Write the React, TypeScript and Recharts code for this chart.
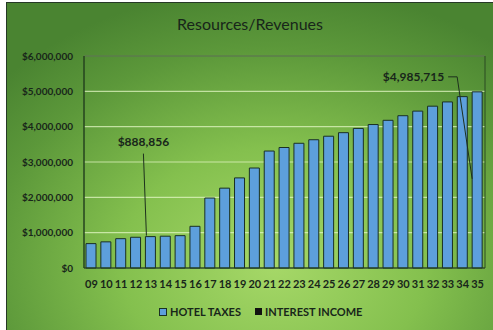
import React from "react";
import {
  BarChart,
  Bar,
  XAxis,
  YAxis,
  CartesianGrid,
  ReferenceArea,
  LabelList,
} from "recharts";

// fiscal years (two digit)
const years = [
  "09", "10", "11", "12", "13", "14", "15", "16", "17", "18", "19", "20", "21", "22",
  "23", "24", "25", "26", "27", "28", "29", "30", "31", "32", "33", "34", "35",
];

const hotelTaxes = [
  690000, 740000, 830000, 870000, 888856, 900000, 915000, 1180000, 1980000, 2260000,
  2550000, 2830000, 3310000, 3410000, 3530000, 3630000, 3730000, 3830000, 3950000,
  4060000, 4180000, 4310000, 4440000, 4580000, 4700000, 4850000, 4985715,
];

const interestIncome = [
  0, 0, 0, 0, 0, 0, 0, 0, 0, 0, 0, 0, 0, 0, 0, 0, 0, 0, 0, 0, 0, 0, 0, 0, 0, 0, 0,
];

const yTicks = [0, 1000000, 2000000, 3000000, 4000000, 5000000, 6000000];

// bars that get a callout label
const calloutIdx = [4, 26];

const data = years.map((yr, i) => ({
  year: yr,
  hotel: hotelTaxes[i],
  interest: interestIncome[i],
}));

const money = (v: number) => "$" + v.toLocaleString("en-US");

const FONT = "Lato, 'Open Sans', sans-serif";
const INK = "#18261a";

const Callout = (props: any) => {
  const { x, y, width, index, value } = props;
  if (!calloutIdx.includes(index)) return null;
  const cx = x + width / 2;
  if (index === 4) {
    return (
      <g>
        <text x={cx - 7} y={y - 91} textAnchor="middle" fontSize={12} fontWeight={700} fill={INK} fontFamily={FONT}>
          {money(value)}
        </text>
        <line x1={cx - 7} y1={y - 83} x2={cx - 4} y2={y - 1} stroke="#1d301d" strokeWidth={1} />
      </g>
    );
  }
  return (
    <g>
      <text x={cx - 33} y={y - 11} textAnchor="end" fontSize={12} fontWeight={700} fill={INK} fontFamily={FONT}>
        {money(value)}
      </text>
      <polyline
        points={`${cx - 29},${y - 15} ${cx - 20},${y - 15} ${cx - 5},${y + 87}`}
        fill="none"
        stroke="#1d301d"
        strokeWidth={1}
      />
    </g>
  );
};

const App = () => {
  return (
    <div style={{ position: "absolute", left: 0, top: 0, width: 493, height: 330, background: "#fff", fontFamily: FONT }}>
      <div
        style={{
          position: "absolute",
          left: 6,
          top: 2,
          width: 487,
          height: 328,
          boxSizing: "border-box",
          borderLeft: "1px solid #263826",
          borderTop: "1px solid #263826",
          background:
            "radial-gradient(ellipse 75% 85% at 55% 80%, #a6d868 0%, #84c04e 42%, #5c983a 78%, #4a8431 100%)",
        }}
      />
      <div
        style={{
          position: "absolute",
          left: 7,
          top: 14,
          width: 486,
          textAlign: "center",
          fontSize: 16,
          color: INK,
        }}
      >
        Resources/Revenues
      </div>
      <div style={{ position: "absolute", left: 7, top: 3 }}>
        <BarChart
          width={486}
          height={327}
          data={data}
          margin={{ top: 53, right: 8, left: 0, bottom: 32 }}
          barSize={10}
        >
          <CartesianGrid vertical={false} stroke="rgba(225,245,195,0.75)" strokeWidth={1.2} />
          <XAxis
            dataKey="year"
            interval={0}
            tickLine={false}
            tickSize={0}
            tickMargin={12}
            axisLine={{ stroke: "#22401c" }}
            height={30}
            tick={{ fontSize: 11, fontWeight: 700, fill: INK, fontFamily: FONT }}
          />
          <YAxis
            width={77}
            domain={[0, 6000000]}
            ticks={yTicks}
            tickFormatter={money}
            tickLine={false}
            tickSize={0}
            tickMargin={11}
            axisLine={{ stroke: "#22401c" }}
            tick={{ fontSize: 10, fontWeight: 700, fill: INK, fontFamily: FONT }}
          />
          <ReferenceArea y1={0} y2={6000000} fill="none" stroke="#2a4a22" strokeWidth={1} />
          <Bar dataKey="hotel" stackId="a" fill="#5d9fdc" stroke="#1a3024" strokeWidth={1} isAnimationActive={false}>
            <LabelList dataKey="hotel" content={Callout} />
          </Bar>
          <Bar dataKey="interest" stackId="a" fill="#111" isAnimationActive={false} />
        </BarChart>
      </div>
      <div
        style={{
          position: "absolute",
          left: 159,
          top: 305,
          display: "flex",
          alignItems: "center",
          fontSize: 11,
          fontWeight: 700,
          color: INK,
        }}
      >
        <span style={{ width: 6, height: 6, background: "#5d9fdc", border: "1px solid #1a3024", marginRight: 3 }} />
        <span style={{ marginRight: 14 }}>HOTEL TAXES</span>
        <span style={{ width: 7, height: 7, background: "#111", marginRight: 3 }} />
        <span>INTEREST INCOME</span>
      </div>
    </div>
  );
};

export default App;
